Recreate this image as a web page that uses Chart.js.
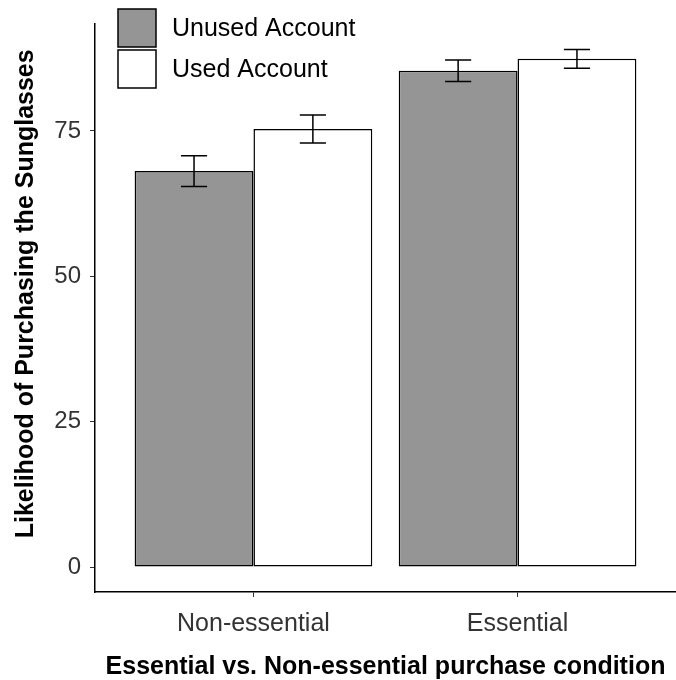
<!DOCTYPE html>
<html>
<head>
<meta charset="utf-8">
<script src="https://cdn.jsdelivr.net/npm/chart.js@4"></script>
<style>
  html, body { margin: 0; padding: 0; background: #fff; }
  canvas { display: block; }
</style>
</head>
<body>
<canvas id="chart" width="676" height="680"></canvas>
<script>
const categories = ["Non-essential", "Essential"];
const seriesNames = ["Unused Account", "Used Account"];
const unusedValues = [68.1, 85.35];
const usedValues = [75.35, 87.4];
const unusedErrors = [2.65, 1.85];
const usedErrors = [2.4, 1.6];
const yTicks = [0, 25, 50, 75];

const FONT = "'Liberation Sans', Arial, Helvetica, sans-serif";
const GREY = "#959595";

const errorBars = {
  id: "errorBars",
  afterDatasetsDraw(chart) {
    const { ctx } = chart;
    const y = chart.scales.y;
    const errs = [unusedErrors, usedErrors];
    ctx.save();
    ctx.strokeStyle = "#000";
    ctx.lineWidth = 1.5;
    chart.data.datasets.forEach((ds, d) => {
      chart.getDatasetMeta(d).data.forEach((bar, i) => {
        const v = ds.data[i].y;
        const top = y.getPixelForValue(v + errs[d][i]);
        const bottom = y.getPixelForValue(v - errs[d][i]);
        const half = bar.width * 0.11;
        ctx.beginPath();
        ctx.moveTo(bar.x, top); ctx.lineTo(bar.x, bottom);
        ctx.moveTo(bar.x - half, top); ctx.lineTo(bar.x + half, top);
        ctx.moveTo(bar.x - half, bottom); ctx.lineTo(bar.x + half, bottom);
        ctx.stroke();
      });
    });
    ctx.restore();
  }
};

// ggplot-style legend sitting in the top left of the panel
const boxLegend = {
  id: "boxLegend",
  afterDraw(chart) {
    const { ctx } = chart;
    ctx.save();
    ctx.font = "25px " + FONT;
    ctx.textBaseline = "middle";
    ctx.textAlign = "left";
    chart.data.datasets.forEach((ds, d) => {
      const top = 9 + d * 41;
      ctx.fillStyle = ds.backgroundColor;
      ctx.fillRect(118, top, 38, 38);
      ctx.strokeStyle = "#000";
      ctx.lineWidth = 1.5;
      ctx.strokeRect(118, top, 38, 38);
      ctx.fillStyle = "#000";
      ctx.fillText(ds.label, 172, top + 20);
    });
    ctx.restore();
  }
};

new Chart(document.getElementById("chart"), {
  type: "bar",
  data: {
    datasets: [
      { label: seriesNames[0], data: categories.map((c, i) => ({ x: i + 1, y: unusedValues[i] })), backgroundColor: GREY },
      { label: seriesNames[1], data: categories.map((c, i) => ({ x: i + 1, y: usedValues[i] })), backgroundColor: "#ffffff" }
    ]
  },
  options: {
    responsive: false,
    animation: false,
    categoryPercentage: 0.9,
    barPercentage: 1,
    borderColor: "#000",
    borderWidth: 1.5,
    borderSkipped: false,
    layout: { padding: { top: 13, right: 0, left: 0, bottom: 0 } },
    plugins: { legend: { display: false }, tooltip: { enabled: false } },
    scales: {
      x: {
        type: "linear",
        offset: false,
        min: 0.4,
        max: 2.6,
        afterBuildTicks: scale => { scale.ticks = categories.map((c, i) => ({ value: i + 1 })); },
        afterFit: scale => { scale.height = 88; },
        ticks: { callback: v => categories[v - 1], font: { family: FONT, size: 25 }, color: "#333", padding: 12, maxRotation: 0 },
        grid: { offset: false, drawOnChartArea: false, drawTicks: true, tickLength: 5, color: "#333" },
        border: { display: true, color: "#000", width: 1.5 },
        title: { display: true, text: "Essential vs. Non-essential purchase condition", color: "#000", font: { family: FONT, size: 25, weight: "bold", lineHeight: 1 }, padding: { top: 0, bottom: 0 } }
      },
      y: {
        min: -4.3,
        max: 93.5,
        afterBuildTicks: scale => { scale.ticks = yTicks.map(v => ({ value: v })); },
        afterFit: scale => { scale.width = 95; },
        ticks: { font: { family: FONT, size: 24 }, color: "#333", padding: 9 },
        grid: { drawOnChartArea: false, drawTicks: true, tickLength: 5, color: "#333" },
        border: { display: true, color: "#000", width: 1.5 },
        title: { display: true, text: "    Likelihood of Purchasing the Sunglasses", color: "#000", font: { family: FONT, size: 25, weight: "bold", lineHeight: 1 }, padding: { top: 14, bottom: 0 } }
      }
    }
  },
  plugins: [errorBars, boxLegend]
});
</script>
</body>
</html>
